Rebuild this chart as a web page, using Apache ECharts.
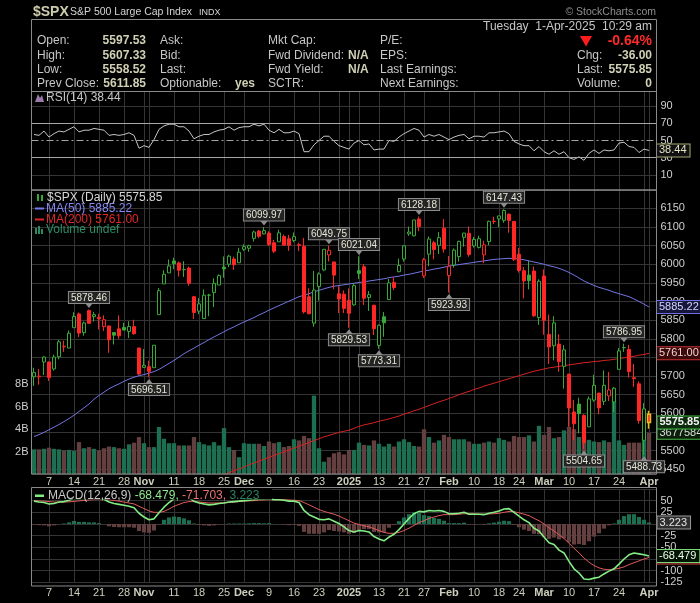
<!DOCTYPE html>
<html>
<head>
<meta charset="utf-8">
<script src="https://cdn.jsdelivr.net/npm/echarts@6.0.0/dist/echarts.min.js"></script>
<style>
html,body{margin:0;padding:0;background:#000;overflow:hidden;}
#c{width:700px;height:603px;}
</style>
</head>
<body>
<div id="c"></div>
<script>
// ---------------- DATA ----------------
const dates = [
'2024-10-02','2024-10-03','2024-10-04','2024-10-07','2024-10-08','2024-10-09','2024-10-10','2024-10-11','2024-10-14','2024-10-15',
'2024-10-16','2024-10-17','2024-10-18','2024-10-21','2024-10-22','2024-10-23','2024-10-24','2024-10-25','2024-10-28','2024-10-29',
'2024-10-30','2024-10-31','2024-11-01','2024-11-04','2024-11-05','2024-11-06','2024-11-07','2024-11-08','2024-11-11','2024-11-12',
'2024-11-13','2024-11-14','2024-11-15','2024-11-18','2024-11-19','2024-11-20','2024-11-21','2024-11-22','2024-11-25','2024-11-26',
'2024-11-27','2024-11-29','2024-12-02','2024-12-03','2024-12-04','2024-12-05','2024-12-06','2024-12-09','2024-12-10','2024-12-11',
'2024-12-12','2024-12-13','2024-12-16','2024-12-17','2024-12-18','2024-12-19','2024-12-20','2024-12-23','2024-12-24','2024-12-26',
'2024-12-27','2024-12-30','2024-12-31','2025-01-02','2025-01-03','2025-01-06','2025-01-07','2025-01-08','2025-01-10','2025-01-13',
'2025-01-14','2025-01-15','2025-01-16','2025-01-17','2025-01-21','2025-01-22','2025-01-23','2025-01-24','2025-01-27','2025-01-28',
'2025-01-29','2025-01-30','2025-01-31','2025-02-03','2025-02-04','2025-02-05','2025-02-06','2025-02-07','2025-02-10','2025-02-11',
'2025-02-12','2025-02-13','2025-02-14','2025-02-18','2025-02-19','2025-02-20','2025-02-21','2025-02-24','2025-02-25','2025-02-26',
'2025-02-27','2025-02-28','2025-03-03','2025-03-04','2025-03-05','2025-03-06','2025-03-07','2025-03-10','2025-03-11','2025-03-12',
'2025-03-13','2025-03-14','2025-03-17','2025-03-18','2025-03-19','2025-03-20','2025-03-21','2025-03-24','2025-03-25','2025-03-26',
'2025-03-27','2025-03-28','2025-03-31','2025-04-01'];

const opens = [
5698.19,5698.10,5737.81,5737.80,5719.14,5751.80,5778.36,5775.09,5829.81,5866.74,
5816.58,5875.62,5859.43,5857.82,5832.70,5834.50,5816.80,5826.75,5830.20,5819.68,
5832.65,5775.34,5723.22,5725.15,5722.43,5864.89,5947.21,5976.76,6008.86,6003.60,
5985.75,5989.68,5912.79,5874.17,5854.09,5917.06,5924.37,5944.36,5992.28,6000.03,
6014.11,6003.98,6040.11,6042.97,6069.39,6089.03,6081.38,6083.58,6057.59,6060.15,
6074.29,6068.17,6063.79,6052.55,6047.65,5912.71,5842.00,5940.25,5984.63,6024.97,
6006.17,5920.67,5919.74,5903.26,5891.07,5982.81,5993.26,5910.66,5890.24,5782.35,
5859.09,5905.21,5951.19,5980.03,6014.12,6081.39,6076.32,6121.43,5969.04,6026.97,
6057.70,6050.75,6096.79,5969.65,5998.14,6020.45,6072.22,6083.13,6049.32,6045.20,
6025.08,6060.59,6115.52,6121.60,6117.76,6134.50,6114.82,6026.69,5982.73,5970.87,
5981.88,5856.74,5968.33,5811.98,5781.38,5785.87,5726.01,5705.37,5603.65,5624.84,
5594.45,5563.85,5635.60,5654.53,5632.37,5646.92,5630.73,5718.08,5775.93,5771.66,
5695.64,5679.19,5527.91,5597.53];

const highs = [
5722.42,5718.78,5753.39,5739.34,5757.60,5796.80,5795.03,5822.13,5871.41,5870.36,
5846.52,5878.46,5872.17,5866.92,5863.04,5834.85,5817.25,5862.82,5842.92,5847.19,
5850.94,5775.34,5772.52,5741.43,5783.44,5936.14,5983.84,6012.45,6017.31,6007.56,
6008.19,5993.88,5915.19,5909.45,5932.18,5920.67,5962.33,5972.90,6020.75,6025.42,
6020.16,6044.17,6053.58,6052.07,6089.84,6092.00,6099.97,6088.51,6065.40,6092.59,
6079.68,6078.58,6085.19,6057.68,6070.67,5935.52,5982.06,5978.25,6040.10,6049.75,
6006.17,5940.79,5929.74,5935.09,5949.34,6021.04,6000.68,5927.89,5890.24,5838.30,
5871.92,5960.61,5964.69,6014.96,6051.51,6100.81,6118.73,6128.18,6017.17,6074.54,
6062.83,6086.64,6120.91,6022.13,6042.48,6062.86,6084.03,6101.28,6073.38,6076.28,
6063.09,6116.91,6127.47,6129.63,6147.43,6134.50,6114.82,6043.65,5992.65,6009.82,
5993.69,5959.40,5986.09,5865.08,5860.59,5812.08,5783.01,5705.37,5636.30,5642.19,
5597.78,5645.27,5703.52,5654.53,5715.33,5711.15,5670.84,5775.14,5786.95,5783.62,
5732.28,5685.89,5627.56,5607.33];

const lows = [
5674.00,5677.01,5702.83,5686.85,5714.56,5745.02,5764.76,5775.09,5829.81,5804.48,
5808.34,5840.25,5846.11,5824.76,5821.17,5762.41,5784.92,5799.98,5823.08,5802.17,
5811.28,5703.24,5723.22,5696.51,5722.10,5864.89,5947.21,5976.76,5986.69,5966.80,
5965.91,5942.28,5853.01,5865.95,5853.53,5860.55,5885.01,5944.36,5963.91,5992.27,
5984.87,6003.98,6035.33,6033.39,6061.06,6070.00,6079.98,6048.63,6029.89,6060.15,
6051.25,6035.77,6059.14,6035.19,5867.79,5866.07,5832.30,5902.57,5981.44,6007.37,
5932.95,5869.16,5868.86,5829.53,5888.66,5960.01,5890.68,5874.78,5809.97,5773.31,
5805.38,5905.21,5930.98,5978.44,6006.88,6076.13,6074.67,6088.74,5962.92,5994.63,
6012.96,6027.46,6030.93,5923.93,5990.87,6007.06,6046.83,6019.96,6044.84,6042.34,
6003.00,6051.00,6107.62,6099.51,6111.15,6084.59,6008.56,5977.83,5908.49,5932.69,
5858.78,5837.66,5810.91,5732.59,5742.35,5711.64,5666.29,5564.02,5528.41,5546.09,
5504.65,5563.85,5631.12,5597.76,5622.20,5632.99,5603.10,5718.08,5764.93,5695.67,
5670.94,5572.42,5488.73,5558.52];

const closes = [
5709.54,5699.94,5751.07,5695.94,5751.13,5792.04,5780.05,5815.03,5859.85,5815.26,
5842.47,5841.47,5864.67,5853.98,5851.20,5797.42,5809.86,5808.12,5823.52,5832.92,
5813.67,5705.45,5728.80,5712.69,5782.76,5929.04,5973.10,5995.54,6001.35,5983.99,
5985.38,5949.17,5870.62,5893.62,5916.98,5917.11,5948.71,5969.34,5987.37,6021.63,
5998.74,6032.38,6047.15,6049.88,6086.49,6075.11,6090.27,6052.85,6034.91,6084.19,
6051.25,6051.09,6074.08,6050.61,5872.16,5867.08,5930.85,5974.07,6040.04,6037.59,
5970.84,5906.94,5881.63,5868.55,5942.47,5975.38,5909.03,5918.25,5827.04,5836.22,
5842.91,5949.91,5937.34,5996.66,6049.24,6086.37,6118.71,6101.24,6012.28,6067.70,
6039.31,6071.17,6040.53,5994.57,6037.88,6061.48,6083.57,6025.99,6066.44,6068.50,
6051.97,6115.07,6114.63,6129.58,6144.15,6117.52,6013.13,5983.25,5955.25,5956.06,
5861.57,5954.50,5849.72,5778.15,5842.63,5738.52,5770.20,5614.56,5572.07,5599.30,
5521.52,5638.94,5675.12,5614.66,5675.29,5662.89,5667.56,5767.57,5776.65,5712.20,
5693.31,5580.94,5611.85,5575.85];

// volume in billions of shares
const volumes = [
2.2,2.2,2.25,2.35,2.25,2.2,2.1,2.15,2.05,2.85,
2.3,2.4,2.25,2.1,2.3,2.45,2.4,2.3,2.25,2.65,
2.8,3.3,2.75,2.4,2.4,4.2,3.15,2.75,2.75,2.55,
2.55,2.55,3.3,2.85,2.65,2.55,2.85,2.55,4.1,2.4,
2.15,1.5,2.75,2.7,2.7,2.7,2.5,2.9,2.75,2.85,
2.4,2.5,3.1,3.0,3.4,3.2,7.0,2.3,1.1,1.5,
1.85,1.95,1.75,2.15,2.15,2.8,2.6,2.55,3.0,2.7,
2.45,2.7,2.45,2.9,3.1,2.85,2.5,2.45,4.0,3.3,
2.8,3.0,3.5,3.3,3.1,3.1,3.1,2.9,2.7,2.7,
2.8,2.9,2.8,3.2,3.05,2.9,3.4,3.3,3.3,3.45,
2.9,4.3,3.5,4.2,3.2,3.3,3.9,4.2,4.0,3.3,
3.4,3.05,2.9,2.85,3.0,2.85,6.6,3.0,2.6,2.8,
2.8,2.8,3.5,3.677584];

const ma50 = [
5538,5543,5549,5556,5563,5570,5578,5586,5595,5605,
5615,5625,5638,5648,5657,5666,5673,5679,5686,5692,
5697,5701,5704,5708,5712,5718,5726,5734,5742,5751,
5760,5768,5775,5783,5790,5798,5805,5812,5819,5826,
5832,5839,5845,5851,5857,5864,5870,5877,5883,5889,
5895,5901,5907,5913,5917,5921,5926,5930,5934,5938,
5941,5943,5945,5947,5949,5951,5953,5955,5957,5959,
5961,5964,5966,5968,5971,5973,5976,5979,5982,5984,
5987,5989,5992,5995,5997,5999,6001,6003,6005,6007,
6009,6011,6013,6014,6015,6016,6015,6014,6012,6009,
6006,6003,6000,5996,5993,5989,5984,5978,5971,5963,
5955,5949,5943,5938,5934,5930,5925,5921,5917,5913,
5907,5900,5893,5885.22];

const ma200 = [
null,null,null,null,null,null,null,null,null,null,
null,null,null,null,null,null,null,null,null,null,
null,null,null,null,null,null,null,null,null,null,
null,null,null,null,5416,5421,5426,5431,5436,5441,
5446,5451,5456,5462,5467,5472,5477,5482,5487,5492,
5497,5502,5507,5512,5517,5522,5527,5532,5537,5541,
5545,5549,5552,5555,5560,5565,5569,5572,5575,5579,
5582,5585,5589,5593,5598,5602,5607,5611,5616,5621,
5626,5631,5635,5640,5645,5650,5655,5659,5664,5668,
5673,5677,5681,5685,5689,5693,5697,5701,5705,5709,
5713,5716,5719,5722,5724,5726,5728,5730,5732,5734,
5736,5737,5739,5740,5742,5743,5745,5747,5749,5751,
5753,5756,5758,5761.00];

const rsi = [
57,56,61,54,58,61,60,63,66,60,
62,62,64,63,62,56,57,56,57,59,
56,41,44,42,51,63,67,69,69,66,
66,61,52,55,57,57,60,62,63,66,
62,65,66,66,69,67,69,62,59,63,
59,59,61,58,37,37,45,50,55,55,
49,44,42,40,47,50,45,46,39,40,
40,50,49,54,58,61,64,62,54,57,
55,57,54,51,54,56,57,52,55,55,
54,59,59,60,61,58,49,46,44,44,
38,43,37,34,38,34,37,30,28,31,
27,35,39,35,39,38,39,47,48,43,
42,36,40,38.44];

const macd = [
49,47,46,43,44,47,48,51,55,54,
55,55,56,55,53,47,44,42,40,38,
35,23,15,9,11,24,36,46,54,57,
58,56,49,45,43,41,42,44,45,47,
48,49,50,51,52,53,53,54,52,52,
51,49,49,46,29,20,15,10,9,11,
6,1,-6,-14,-17,-14,-15,-17,-27,-32,
-36,-28,-22,-12,0,12,22,27,26,29,
28,29,27,22,22,23,25,21,21,21,
20,23,25,28,32,33,25,17,9,3,
-9,-15,-28,-40,-44,-56,-62,-80,-96,-105,
-118,-119,-116,-114,-107,-101,-96,-86,-75,-66,
-62,-64,-66,-68.479];

const signal = [
50,49.5,49,48,47,47,47,47.5,48.5,49.5,
50.5,51.5,52.5,53,53,52,50.5,49,47,45,
43,38,33,28,25,25,27,32,38,42,
46,48,48,47,46,45,45,45,45.5,46,
47,48,49,49.5,50,51,51.5,52,52,52,
52,51.5,51,50,46,41,36,31,27,24,
21,17,12,7,2,-1,-4,-6,-10,-14,
-18,-20,-20,-18,-14,-9,-3,3,7,12,
15,18,20,20,20,21,22,22,22,21,
21,21.5,22,23,25,27,26.5,24,21,18,
12,7,0,-8,-15,-23,-31,-41,-52,-62,
-73,-82,-89,-94,-97,-98,-97,-95,-92,-87,
-83,-79,-75,-71.703];

const hist = [
-1,-2.5,-3,-5,-3,0,1,3.5,6.5,4.5,
4.5,3.5,3.5,2,0,-5,-6.5,-7,-7,-7,
-8,-15,-18,-19,-14,-1,9,14,16,15,
12,8,1,-2,-3,-4,-3,-1,-0.5,1,
1,1,1,1.5,2,2,1.5,2,0,0,
-1,-2.5,-2,-4,-17,-21,-21,-21,-18,-13,
-15,-16,-18,-21,-19,-13,-11,-11,-17,-18,
-18,-8,-2,6,14,21,25,24,19,17,
13,11,7,2,2,2,3,-1,-1,0,
-1,1.5,3,5,7,6,-1.5,-7,-12,-15,
-21,-22,-28,-32,-29,-33,-31,-39,-44,-43,
-45,-37,-27,-20,-10,-3,1,9,17,21,
21,15,9,3.223];

// x-axis tick labels and vertical grid dates
const tickDates = ['2024-10-07','2024-10-14','2024-10-21','2024-10-28','2024-11-01','2024-11-11','2024-11-18','2024-11-25',
  '2024-12-02','2024-12-09','2024-12-16','2024-12-23','2025-01-02','2025-01-13','2025-01-21','2025-01-27','2025-02-03',
  '2025-02-10','2025-02-18','2025-02-24','2025-03-03','2025-03-10','2025-03-17','2025-03-24','2025-04-01'];
const tickLabels = ['7','14','21','28','Nov','11','18','25','Dec','9','16','23','2025','13','21','27','Feb','10','18','24','Mar','10','17','24','Apr'];
const extraGridDates = ['2024-11-04','2024-12-30','2025-01-06','2025-03-31'];

// y-axis tick labels
const rsiTickLabels = [10, 30, 50, 70, 90];
const volTickLabels = [2, 4, 6, 8];
const macdTickLabels = [50, 25, -25, -50, -100, -125];

// annotated highs / lows
const highNotes = ['2024-10-17','2024-12-06','2024-12-26','2025-01-06','2025-01-24','2025-02-19','2025-03-25'];
const lowNotes = ['2024-11-04','2025-01-02','2025-01-13','2025-02-03','2025-03-13','2025-03-31'];

// ---------------- CHART ----------------
const F = '"Liberation Sans", Arial, Helvetica, sans-serif';
const N = dates.length;
const cats = dates.concat(['']);
const UP = '#38aa38', DN = '#ff2626';
const VUP = '#1d6f52', VDN = '#643f3f';
const GRID = '#343434', AX = '#cfcfcf', XL = '#cfcfbd';
const labelMap = {}; tickDates.forEach((d, k) => labelMap[d] = tickLabels[k]);
const gridSet = new Set(tickDates.concat(extraGridDates));

const candleData = dates.map((d, i) => {
  const prev = i > 0 ? closes[i - 1] : opens[i];
  const c = closes[i] >= prev ? UP : DN;
  const hollow = closes[i] > opens[i];
  const st = {color: hollow ? '#000' : c, color0: c, borderColor: c, borderColor0: c, borderWidth: 1};
  if (i === N - 1) { st.borderColor = '#e4bd1e'; st.borderColor0 = '#e4bd1e'; st.borderWidth = 1.5; }
  return {value: [opens[i], closes[i], lows[i], highs[i]], itemStyle: st};
});
const volData = volumes.map((v, i) => {
  const up = i === 0 ? true : closes[i] >= closes[i - 1];
  return {value: v, itemStyle: {color: up ? VUP : VDN}};
});
const histData = hist.map(h => ({value: h, itemStyle: {color: h >= 0 ? VUP : VDN}}));

const noteLabel = {show: true, distance: 0, fontSize: 10, fontFamily: F, color: '#e6e6d6',
  backgroundColor: '#242424', borderColor: '#8c8c8c', borderWidth: 1, padding: [1, 2, 0, 2],
  formatter: p => p.value.toFixed(2)};
const notes = [];
highNotes.forEach(d => { const i = dates.indexOf(d);
  notes.push({coord: [d, highs[i]], value: highs[i], symbol: 'path://M0,0L8,0L4,5Z', symbolSize: [8, 5], symbolOffset: [0, -4],
    itemStyle: {color: '#8c8c8c'}, label: Object.assign({}, noteLabel, {position: 'top'})}); });
lowNotes.forEach(d => { const i = dates.indexOf(d);
  notes.push({coord: [d, lows[i]], value: lows[i], symbol: 'path://M4,0L8,5L0,5Z', symbolSize: [8, 5], symbolOffset: [0, 4],
    itemStyle: {color: '#8c8c8c'}, label: Object.assign({}, noteLabel, {position: 'bottom'})}); });

function tag(text, color, bg, border, bold) {
  return {show: true, position: 'right', distance: 8, formatter: () => text, fontSize: 11, fontFamily: F,
    fontWeight: bold ? 'bold' : 'normal', color: color, backgroundColor: bg, borderColor: border, borderWidth: 1, padding: [1, 3, 0, 2]};
}
function endTag(text, color, bg, border) {
  const t = tag(text, color, bg, border, false); delete t.position; return t;
}
notes.push({coord: [dates[N - 1], closes[N - 1]], value: closes[N - 1], symbol: 'rect', symbolSize: 1,
  itemStyle: {color: 'rgba(0,0,0,0)'}, label: tag(closes[N - 1].toFixed(2), '#f4f4f4', '#0c2a0c', '#44b844', true)});

const xAxes = [0, 1, 2].map(g => ({
  type: 'category', gridIndex: g, data: cats, boundaryGap: true,
  axisLine: {show: false}, axisTick: {show: false},
  axisLabel: g === 0 ? {show: false} : {
    show: true, interval: (idx, val) => labelMap[val] !== undefined, margin: g === 1 ? 2 : 5,
    color: XL, fontSize: 11, fontFamily: F,
    formatter: val => { const t = labelMap[val] || ''; return /^\d{1,2}$/.test(t) ? t : '{m|' + t + '}'; },
    rich: {m: {fontWeight: 'bold', color: XL, fontSize: 11, fontFamily: F}}
  },
  splitLine: {show: true, alignWithLabel: true, interval: (idx, val) => gridSet.has(val), lineStyle: {color: GRID, width: 1}}
}));

const yAxes = [
  {type: 'value', gridIndex: 0, position: 'right', min: -7.6, max: 107.6, splitNumber: 11,
    axisLine: {show: false}, axisTick: {show: false}, splitLine: {show: false},
    axisLabel: {color: AX, fontSize: 11, fontFamily: F, margin: 4, formatter: v => rsiTickLabels.indexOf(v) >= 0 ? String(v) : ''}},
  {type: 'value', gridIndex: 1, position: 'right', min: 5437.4, max: 6199.1, splitNumber: 15, scale: true,
    axisLine: {show: false}, axisTick: {show: false}, splitLine: {show: true, lineStyle: {color: GRID}},
    axisLabel: {color: AX, fontSize: 11, fontFamily: F, margin: 4, formatter: v => (Math.abs(v % 50) < 1e-6) ? String(v) : ''}},
  {type: 'value', gridIndex: 1, position: 'left', min: 0, max: 25.36, interval: 2,
    axisLine: {show: false}, axisTick: {show: false}, splitLine: {show: false},
    axisLabel: {color: AX, fontSize: 11, fontFamily: F, margin: 3, formatter: v => volTickLabels.indexOf(v) >= 0 ? v + 'B' : ''}},
  {type: 'value', gridIndex: 2, position: 'right', min: -125, max: 75, interval: 25,
    axisLine: {show: false}, axisTick: {show: false}, splitLine: {show: true, lineStyle: {color: GRID}},
    axisLabel: {color: AX, fontSize: 11, fontFamily: F, margin: 4, formatter: v => macdTickLabels.indexOf(v) >= 0 ? String(v) : ''}}
];

// ---------------- graphic (header, legends, panel frames) ----------------
const G = [];
const LBL = '#c6c6c6', VAL = '#d0d0b4', BOR = '#8a8a8a';
function T(x, y, text, size, color, o) {
  o = o || {};
  G.push({type: 'text', x: x, y: y, z: 100, silent: true, style: {text: text, fill: color,
    font: (o.bold ? 'bold ' : '') + size + 'px ' + F, textAlign: o.align || 'left', textVerticalAlign: 'middle',
    align: o.align || 'left', verticalAlign: 'middle', rich: o.rich}});
}
function R(x, y, w, h, stroke, fill, z) {
  G.push({type: 'rect', z: z || 100, silent: true, shape: {x: x, y: y, width: w, height: h},
    style: {fill: fill || 'none', stroke: stroke || 'none', lineWidth: 1}});
}
const last = N - 1;
const chg = closes[last] - closes[last - 1];
const pct = chg / closes[last - 1] * 100;

T(33, 12, '$SPX', 14, '#cdcdae', {bold: true});
T(70, 12, 'S&P 500 Large Cap Index', 10.5, '#d4d4d4');
T(199, 12.5, 'INDX', 9, '#d4d4d4');
T(656, 12, '\u00a9 StockCharts.com', 10.5, '#8e8e8e', {align: 'right'});
R(31.5, 19.5, 625, 72, BOR);
T(652, 26.7, 'Tuesday  1-Apr-2025  10:29 am', 12, LBL, {align: 'right'});
const rowsY = [41, 55.3, 69.7, 84];
['Open:', 'High:', 'Low:', 'Prev Close:'].forEach((s, k) => T(37, rowsY[k], s, 12, LBL));
[opens[last], highs[last], lows[last], closes[last - 1]].forEach((v, k) => T(146, rowsY[k], v.toFixed(2), 12, VAL, {bold: true, align: 'right'}));
['Ask:', 'Bid:', 'Last:', 'Optionable:'].forEach((s, k) => T(160, rowsY[k], s, 12, LBL));
T(235, rowsY[3], 'yes', 12, VAL, {bold: true});
['Mkt Cap:', 'Fwd Dividend:', 'Fwd Yield:', 'SCTR:'].forEach((s, k) => T(268, rowsY[k], s, 12, LBL));
T(348, rowsY[1], 'N/A', 12, VAL, {bold: true});
T(348, rowsY[2], 'N/A', 12, VAL, {bold: true});
['P/E:', 'EPS:', 'Last Earnings:', 'Next Earnings:'].forEach((s, k) => T(380, rowsY[k], s, 12, LBL));
G.push({type: 'polygon', z: 100, silent: true, shape: {points: [[580, 36], [592, 36], [586, 46.5]]}, style: {fill: '#ff1c1c'}});
T(652, rowsY[0], pct.toFixed(2) + '%', 14, '#ff2a2a', {bold: true, align: 'right'});
T(577, rowsY[1], 'Chg:', 12, LBL);
T(652, rowsY[1], chg.toFixed(2), 12, VAL, {bold: true, align: 'right'});
T(577, rowsY[2], 'Last:', 12, LBL);
T(652, rowsY[2], closes[last].toFixed(2), 12, VAL, {bold: true, align: 'right'});
T(577, rowsY[3], 'Volume:', 12, LBL);
T(652, rowsY[3], '0', 12, VAL, {bold: true, align: 'right'});

// panel frames
R(31.5, 91.5, 625, 98.5, BOR);
R(31.5, 190, 625, 284, BOR);
R(31.5, 487.5, 625, 98.5, BOR);

// RSI legend
G.push({type: 'polygon', z: 100, silent: true, shape: {points: [[35, 102], [38, 94], [40, 98], [42, 95], [44, 102]]}, style: {fill: '#9a7aa8'}});
T(46, 98, 'RSI(14) ' + rsi[last].toFixed(2), 12, LBL);

// price legend
R(37, 194, 2, 7, null, '#36a936'); R(41, 195, 2, 6, null, '#36a936');
T(47, 197.7, '$SPX (Daily) ' + closes[last].toFixed(2), 12, '#d6d6d6');
R(35, 207.5, 9, 2, null, '#7878ea');
T(46, 208.5, 'MA(50) ' + ma50[last].toFixed(2), 12, '#8686f4');
R(35, 218.5, 9, 2, null, '#e02424');
T(46, 219.3, 'MA(200) ' + ma200[last].toFixed(2), 12, '#e02828');
R(35, 228, 2, 6, null, '#2a8a62'); R(38, 226, 2, 8, null, '#2a8a62'); R(41, 229, 2, 5, null, '#2a8a62');
T(46, 229.5, 'Volume undef', 12, '#2a8f64');

// MACD legend (with black box like the reference)
R(32, 488, 240, 11.5, null, '#000', 99);
R(35, 494.5, 9, 2.5, null, '#80ec80');
T(48, 495.5, '{a|MACD(12,26,9)} {b|' + macd[last].toFixed(3) + ',} {c|' + signal[last].toFixed(3) + ',} {d|' + hist[last].toFixed(3) + '}', 12, LBL,
  {rich: {a: {fill: LBL, font: '12px ' + F}, b: {fill: '#90ea90', font: '12px ' + F}, c: {fill: '#e87272', font: '12px ' + F}, d: {fill: '#2a8060', font: '12px ' + F}}});

const option = {
  backgroundColor: '#000',
  animation: false,
  textStyle: {fontFamily: F},
  grid: [
    {left: 31.5, right: 43.5, top: 91, height: 99, outerBoundsMode: 'none', containLabel: false},
    {left: 31.5, right: 43.5, top: 190, height: 284, outerBoundsMode: 'none', containLabel: false},
    {left: 31.5, right: 43.5, top: 489, height: 93.33, outerBoundsMode: 'none', containLabel: false}
  ],
  xAxis: xAxes,
  yAxis: yAxes,
  graphic: {elements: G},
  series: [
    {name: 'RSI', type: 'line', xAxisIndex: 0, yAxisIndex: 0, data: rsi, symbol: 'none', z: 4,
      lineStyle: {color: '#c4c4c4', width: 1},
      endLabel: endTag(rsi[last].toFixed(2), '#e2e2c4', '#111', '#a8a872'),
      markLine: {silent: true, symbol: 'none', label: {show: false}, animation: false, data: [
        {yAxis: 90, lineStyle: {color: GRID, width: 1, type: 'solid'}},
        {yAxis: 10, lineStyle: {color: GRID, width: 1, type: 'solid'}},
        {yAxis: 70, lineStyle: {color: '#a6a6a6', width: 1, type: 'solid'}},
        {yAxis: 30, lineStyle: {color: '#a6a6a6', width: 1, type: 'solid'}},
        {yAxis: 50, lineStyle: {color: '#a6a6a6', width: 1, type: [7, 3, 2, 3]}}
      ]}},
    {name: 'Volume', type: 'bar', xAxisIndex: 1, yAxisIndex: 2, data: volData, barCategoryGap: '14%', z: 1, silent: true,
      markPoint: {silent: true, data: [{coord: [dates[last], volumes[last]], value: volumes[last], symbol: 'rect', symbolSize: 1,
        itemStyle: {color: 'rgba(0,0,0,0)'}, label: tag(String(Math.round(volumes[last] * 1e6)), '#dcdcdc', '#0a1e0a', '#44b844', false)}]}},
    {name: 'MA200', type: 'line', xAxisIndex: 1, yAxisIndex: 1, data: ma200, symbol: 'none', z: 3,
      lineStyle: {color: '#d42222', width: 1},
      endLabel: endTag(ma200[last].toFixed(2), '#f0d0d0', '#3a0a0a', '#c83232')},
    {name: 'MA50', type: 'line', xAxisIndex: 1, yAxisIndex: 1, data: ma50, symbol: 'none', z: 3,
      lineStyle: {color: '#7474e4', width: 1},
      endLabel: endTag(ma50[last].toFixed(2), '#d4d4ff', '#16163a', '#6e6ee4')},
    {name: '$SPX', type: 'candlestick', xAxisIndex: 1, yAxisIndex: 1, data: candleData, barWidth: 4, z: 5,
      markPoint: {silent: true, animation: false, data: notes}},
    {name: 'Hist', type: 'bar', xAxisIndex: 2, yAxisIndex: 3, data: histData, barCategoryGap: '18%', z: 1, silent: true,
      markPoint: {silent: true, data: [{coord: [dates[last], hist[last]], value: hist[last], symbol: 'rect', symbolSize: 1,
        itemStyle: {color: 'rgba(0,0,0,0)'}, label: tag(hist[last].toFixed(3), '#e4e4e4', '#2e2e2e', '#9a9a9a', false)}]}},
    {name: 'Signal', type: 'line', xAxisIndex: 2, yAxisIndex: 3, data: signal, symbol: 'none', z: 3,
      lineStyle: {color: '#e05a5a', width: 1},
      endLabel: endTag(signal[last].toFixed(3), '#f0d0d0', '#2a0808', '#d04040')},
    {name: 'MACD', type: 'line', xAxisIndex: 2, yAxisIndex: 3, data: macd, symbol: 'none', z: 4,
      lineStyle: {color: '#84ec84', width: 1.6},
      endLabel: endTag(macd[last].toFixed(3), '#e8ffe8', '#061406', '#74d874')}
  ]
};

const chart = echarts.init(document.getElementById('c'), null, {renderer: 'canvas', width: 700, height: 603});
chart.setOption(option);
</script>
</body>
</html>
